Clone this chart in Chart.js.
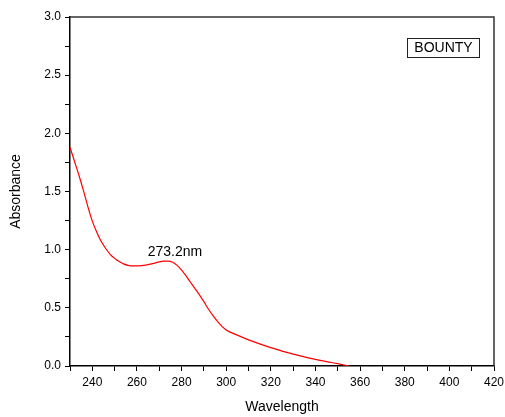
<!DOCTYPE html>
<html>
<head>
<meta charset="utf-8">
<script src="https://cdn.jsdelivr.net/npm/chart.js@4.4.0/dist/chart.umd.min.js"></script>
<style>
  html, body { margin: 0; padding: 0; background: #fff; }
</style>
</head>
<body>
<canvas id="grafico" width="505" height="417"></canvas>
<script>
var longitudes = [230, 232, 234, 236, 238, 240, 242, 244, 246, 248, 250, 252, 254, 256, 258, 260,
    262, 264, 266, 268, 270, 272, 274, 276, 278, 280, 282, 284, 286, 288, 290, 292, 294, 296, 298,
    300, 305, 310, 315, 320, 325, 330, 335, 340, 345, 350, 355];
var absorbancia = [1.88, 1.76, 1.64, 1.51, 1.37, 1.245, 1.15, 1.07, 1.01, 0.96, 0.925, 0.898, 0.878, 0.865, 0.86, 0.86,
    0.862, 0.867, 0.875, 0.885, 0.895, 0.901, 0.902, 0.892, 0.865, 0.825, 0.775, 0.72, 0.665, 0.612, 0.553, 0.49, 0.435, 0.385, 0.343,
    0.31, 0.265, 0.225, 0.19, 0.158, 0.128, 0.102, 0.078, 0.057, 0.038, 0.02, 0.0];
var serie = 'BOUNTY';
var picoX = 277, picoY = 0.98, picoTexto = '273.2nm';

var fuente = 'Liberation Sans, Arial, sans-serif';

var puntos = [];
for (var i = 0; i < longitudes.length; i++) {
    puntos.push({x: longitudes[i], y: absorbancia[i]});
}

// marco superior/derecho, etiqueta del pico y caja con el nombre
var extras = {
    id: 'extras',
    afterDraw: function(chart) {
        var c = chart.ctx, a = chart.chartArea;
        c.save();
        c.strokeStyle = '#333';
        c.lineWidth = 1.5;
        c.beginPath();
        c.moveTo(a.left, a.top);
        c.lineTo(a.right, a.top);
        c.lineTo(a.right, a.bottom);
        c.stroke();

        c.fillStyle = '#000';
        c.font = '14px ' + fuente;
        c.textAlign = 'center';
        c.textBaseline = 'middle';
        c.fillText(picoTexto, chart.scales.x.getPixelForValue(picoX), chart.scales.y.getPixelForValue(picoY));

        var w = 72, h = 19;
        var bx = a.right - 15 - w, by = a.top + 21;
        c.lineWidth = 1;
        c.strokeStyle = '#222';
        c.strokeRect(bx + 0.5, by + 0.5, w, h);
        c.fillText(serie, bx + w / 2 + 0.5, by + h / 2 + 1);
        c.restore();
    }
};

var ctx = document.getElementById('grafico');
var myChart = new Chart(ctx, {
    type: 'line',
    data: {
        datasets: [{
            label: serie,
            data: puntos,
            borderColor: 'rgb(255, 0, 0)',
            borderWidth: 1.2,
            pointRadius: 0,
            fill: false,
            cubicInterpolationMode: 'monotone'
        }]
    },
    options: {
        responsive: false,
        animation: false,
        layout: { padding: { top: 17, right: 11, left: 0, bottom: 0 } },
        plugins: { legend: { display: false }, tooltip: { enabled: false } },
        scales: {
            x: {
                type: 'linear',
                min: 230,
                max: 420,
                afterFit: function(s) { s.height = 51; s.paddingRight = 0; },
                border: { display: true, color: '#000', width: 1.5 },
                grid: { drawOnChartArea: false, drawTicks: true, tickLength: 5, color: '#000' },
                ticks: {
                    stepSize: 10,
                    autoSkip: false,
                    maxRotation: 0,
                    padding: 4,
                    color: '#000',
                    font: { family: fuente, size: 12 },
                    callback: function(v) { return v % 20 === 0 ? v : ''; }
                },
                title: {
                    display: true,
                    text: 'Wavelength',
                    color: '#000',
                    font: { family: fuente, size: 14 },
                    padding: { top: 0, bottom: 1 }
                }
            },
            y: {
                min: 0,
                max: 3,
                afterFit: function(s) { s.width = 70; },
                border: { display: true, color: '#000', width: 1.5 },
                grid: { drawOnChartArea: false, drawTicks: true, tickLength: 5, color: '#000' },
                ticks: {
                    stepSize: 0.25,
                    autoSkip: false,
                    padding: 4,
                    color: '#000',
                    font: { family: fuente, size: 12 },
                    callback: function(v) {
                        return Math.abs(v * 2 - Math.round(v * 2)) < 1e-6 ? v.toFixed(1) : '';
                    }
                },
                title: {
                    display: true,
                    text: 'Absorbance',
                    color: '#000',
                    font: { family: fuente, size: 14 },
                    padding: { top: 8, bottom: 0 }
                }
            }
        }
    },
    plugins: [extras]
});
</script>
</body>
</html>
